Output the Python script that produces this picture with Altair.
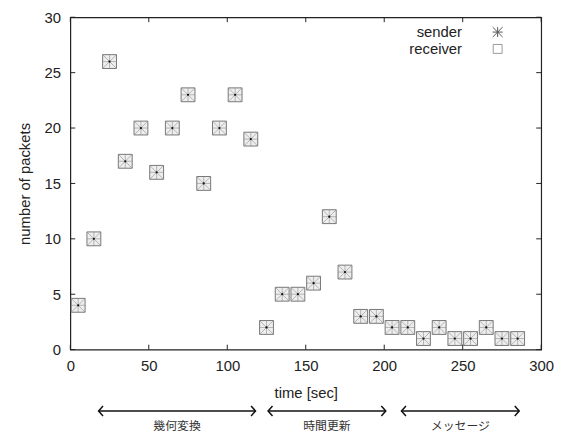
import altair as alt
import pandas as pd

# ---- data ----
time_sec = [5, 15, 25, 35, 45, 55, 65, 75, 85, 95, 105, 115, 125, 135, 145,
            155, 165, 175, 185, 195, 205, 215, 225, 235, 245, 255, 265, 275, 285]
sender = [4, 10, 26, 17, 20, 16, 20, 23, 15, 20, 23, 19, 2, 5, 5,
          6, 12, 7, 3, 3, 2, 2, 1, 2, 1, 1, 2, 1, 1]
receiver = [4, 10, 26, 17, 20, 16, 20, 23, 15, 20, 23, 19, 2, 5, 5,
            6, 12, 7, 3, 3, 2, 2, 1, 2, 1, 1, 2, 1, 1]

x_ticks = [0, 50, 100, 150, 200, 250, 300]
y_ticks = [0, 5, 10, 15, 20, 25, 30]

phase_labels = ["幾何変換", "時間更新", "メッセージ"]
phase_start = [18, 126, 211]
phase_end = [118, 201, 286]

legend_labels = ["sender", "receiver"]

W, H = 476, 336
FONT = "Liberation Sans"
JP = "Noto Sans CJK JP"

df = pd.DataFrame({"time": time_sec, "sender": sender, "receiver": receiver})
xt = pd.DataFrame({"v": x_ticks})
yt = pd.DataFrame({"v": y_ticks})
ph = pd.DataFrame({"label": phase_labels, "start": phase_start, "end": phase_end,
                   "mid": [(a + b) / 2 for a, b in zip(phase_start, phase_end)]})

xscale = alt.Scale(domain=[0, 300], nice=False, zero=False)
yscale = alt.Scale(domain=[0, 30], nice=False)

ASTER = "M-1,0L1,0M0,-1L0,1M-1,-1L1,1M-1,1L1,-1"
LEFT_HEAD = "M0.9,-1L0,0L0.9,1"
RIGHT_HEAD = "M-0.9,-1L0,0L-0.9,1"

base = alt.Chart(df)

xax = alt.Axis(values=x_ticks, tickSize=0, domain=False, grid=False, labelFlush=False,
               labelPadding=9, title="time [sec]", titlePadding=12)
yax = alt.Axis(values=y_ticks, tickSize=0, domain=False, grid=False, labelFlush=False,
               labelPadding=10, title="number of packets", titlePadding=12)

receiver_pts = base.mark_point(shape="square", size=196, filled=False, stroke="#777",
                               strokeWidth=1, fill="#eeeeee", fillOpacity=1).encode(
    x=alt.X("time:Q", scale=xscale, axis=xax),
    y=alt.Y("receiver:Q", scale=yscale, axis=yax),
)
sender_pts = base.mark_point(shape=ASTER, size=196, filled=False, stroke="#888",
                             strokeWidth=0.8).encode(
    x=alt.X("time:Q", scale=xscale),
    y=alt.Y("sender:Q", scale=yscale),
)
center_dot = base.mark_point(shape="circle", size=5, filled=True, color="#111",
                             opacity=1).encode(
    x=alt.X("time:Q", scale=xscale),
    y=alt.Y("sender:Q", scale=yscale),
)

# inward ticks (gnuplot style, mirrored)
tick_style = dict(color="#222", strokeWidth=1)
xt_bottom = alt.Chart(xt).mark_rule(**tick_style).encode(
    x=alt.X("v:Q", scale=xscale), y=alt.value(H), y2=alt.value(H - 5))
xt_top = alt.Chart(xt).mark_rule(**tick_style).encode(
    x=alt.X("v:Q", scale=xscale), y=alt.value(0), y2=alt.value(5))
yt_left = alt.Chart(yt).mark_rule(**tick_style).encode(
    y=alt.Y("v:Q", scale=yscale), x=alt.value(0), x2=alt.value(5))
yt_right = alt.Chart(yt).mark_rule(**tick_style).encode(
    y=alt.Y("v:Q", scale=yscale), x=alt.value(W), x2=alt.value(W - 5))

# legend (gnuplot style: label then symbol)
one = pd.DataFrame({"k": [0]})
leg_items = []
for lbl, ypos in zip(legend_labels, [15, 32]):
    leg_items.append(alt.Chart(one).mark_text(
        align="right", baseline="middle", font=FONT, fontSize=15, color="#222").encode(
        text=alt.value(lbl), x=alt.value(396), y=alt.value(ypos)))
leg_sender = alt.Chart(one).mark_point(shape=ASTER, size=100, filled=False,
                                       stroke="#555", strokeWidth=1, opacity=1).encode(
    x=alt.value(432), y=alt.value(15))
leg_recv = alt.Chart(one).mark_point(shape="square", size=81, filled=False,
                                     stroke="#999", strokeWidth=1, opacity=1).encode(
    x=alt.value(432), y=alt.value(32))

# phase arrows below the axis
ARROW_Y = H + 62
arrow_line = alt.Chart(ph).mark_rule(color="#111", strokeWidth=1.5).encode(
    x=alt.X("start:Q", scale=xscale), x2="end:Q", y=alt.value(ARROW_Y))
arrow_l = alt.Chart(ph).mark_point(shape=LEFT_HEAD, size=100, filled=False,
                                   stroke="#111", strokeWidth=1.5, opacity=1).encode(
    x=alt.X("start:Q", scale=xscale), y=alt.value(ARROW_Y))
arrow_r = alt.Chart(ph).mark_point(shape=RIGHT_HEAD, size=100, filled=False,
                                   stroke="#111", strokeWidth=1.5, opacity=1).encode(
    x=alt.X("end:Q", scale=xscale), y=alt.value(ARROW_Y))
arrow_t = alt.Chart(ph).mark_text(font=JP, fontSize=12, color="#333",
                                  baseline="middle").encode(
    x=alt.X("mid:Q", scale=xscale), y=alt.value(ARROW_Y + 15), text="label:N")

chart = alt.layer(
    receiver_pts, sender_pts, center_dot,
    xt_bottom, xt_top, yt_left, yt_right,
    *leg_items, leg_sender, leg_recv,
    arrow_line, arrow_l, arrow_r, arrow_t,
).properties(
    width=W, height=H,
    autosize=alt.AutoSizeParams(type="none"),
    padding={"left": 63, "top": 7, "right": 16, "bottom": 88},
).configure_view(
    stroke="#222", strokeWidth=1.2
).configure_axis(
    labelFont=FONT, labelFontSize=15, labelColor="#222",
    titleFont=FONT, titleFontSize=15, titleColor="#222", titleFontWeight="normal",
)

chart.save("out.html", embed_options={"renderer": "svg", "actions": False})
